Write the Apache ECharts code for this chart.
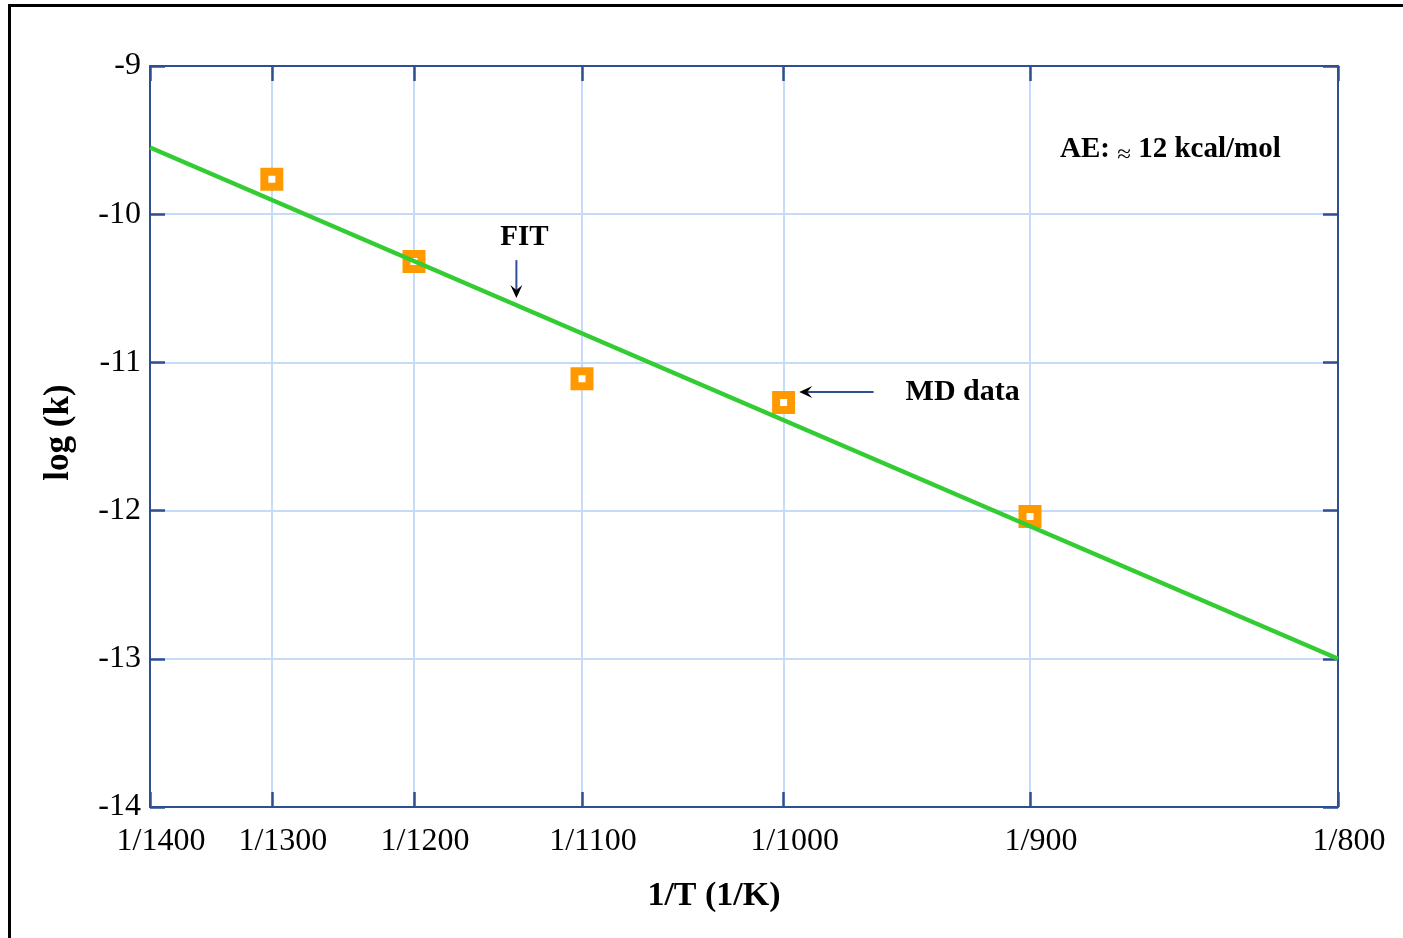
<!DOCTYPE html>
<html>
<head>
<meta charset="utf-8">
<script src="https://cdn.jsdelivr.net/npm/echarts@6/dist/echarts.min.js"></script>
<style>
  html, body { margin: 0; padding: 0; background: #ffffff; }
  #chart { width: 1403px; height: 938px; }
</style>
</head>
<body>
<div id="chart"></div>
<script>
// Temperatures (K) at which the 1/T axis is labelled
const tickTemps = [1400, 1300, 1200, 1100, 1000, 900, 800];

// Molecular-dynamics rate constants, log10(k)
const mdTemps = [1300, 1200, 1100, 1000, 900];
const mdLogK = [-9.765, -10.32, -11.11, -11.27, -12.04];

// Arrhenius fit, evaluated at the ends of the axis
const fitTemps = [1400, 800];
const fitLogK = [-9.55, -13.0];

// log(k) axis range
const yMin = -14, yMax = -9, yStep = 1;

// Annotation arrows, in (T, log k)
const fitArrow = { T: 1137, from: -10.31, to: -10.565 };
const mdArrow = { logK: -11.2, fromT: 961, toT: 993 };

const AXIS = '#2f4f93';
const GRID = '#c6dbf8';
const SERIF = '"Liberation Serif", "Times New Roman", serif';

const inv = t => 1 / t;
const tickValues = tickTemps.map(inv);
const mdPoints = mdTemps.map((t, i) => [inv(t), mdLogK[i]]);
const fitPoints = fitTemps.map((t, i) => [inv(t), fitLogK[i]]);

const chart = echarts.init(document.getElementById('chart'), null, { renderer: 'canvas' });

function xAxisDef(pos, withLabels) {
  return {
    type: 'value',
    position: pos,
    min: inv(1400),
    max: inv(800),
    axisLine: { show: true, onZero: false, lineStyle: { color: AXIS, width: 2 } },
    axisTick: { show: true, inside: true, length: 15, customValues: tickValues,
                lineStyle: { color: AXIS, width: 2.5 } },
    axisLabel: withLabels ? {
      show: true, customValues: tickValues, margin: 19,
      fontFamily: SERIF, fontSize: 32, color: '#000',
      padding: [0, 0, 0, 22],
      formatter: v => '1/' + Math.round(1 / v)
    } : { show: false },
    splitLine: { show: withLabels, lineStyle: { color: GRID, width: 2 } }
  };
}

function yAxisDef(pos, withLabels) {
  return {
    type: 'value',
    position: pos,
    min: yMin, max: yMax, interval: yStep,
    axisLine: { show: true, onZero: false, lineStyle: { color: AXIS, width: 2 } },
    axisTick: { show: true, inside: true, length: 15, lineStyle: { color: AXIS, width: 2.5 } },
    axisLabel: withLabels ? {
      show: true, margin: 9, fontFamily: SERIF, fontSize: 32, color: '#000',
      formatter: v => String(v)
    } : { show: false },
    splitLine: { show: withLabels, lineStyle: { color: GRID, width: 2 } }
  };
}

const xBottom = xAxisDef('bottom', true);
xBottom.name = '1/T (1/K)';
xBottom.nameLocation = 'middle';
xBottom.nameGap = 72;
xBottom.nameTextStyle = { fontFamily: SERIF, fontSize: 34, fontWeight: 'bold', color: '#000',
                          padding: [0, 60, 0, 0] };

const yLeft = yAxisDef('left', true);
yLeft.name = 'log (k)';
yLeft.nameLocation = 'middle';
yLeft.nameGap = 74;
yLeft.nameTextStyle = { fontFamily: SERIF, fontSize: 35, fontWeight: 'bold', color: '#000',
                        padding: [0, 0, 0, 8] };

chart.setOption({
  animation: false,
  backgroundColor: '#ffffff',
  grid: { left: 150, top: 66, right: 65, bottom: 131, containLabel: false },
  xAxis: [xBottom, xAxisDef('top', false)],
  yAxis: [yLeft, yAxisDef('right', false)],
  series: [
    {
      name: 'MD data',
      type: 'scatter',
      xAxisIndex: 0, yAxisIndex: 0,
      data: mdPoints,
      symbol: 'rect',
      symbolSize: 15,
      itemStyle: { color: '#ffffff', borderColor: '#ff9900', borderWidth: 8, opacity: 1 },
      z: 3
    },
    {
      name: 'FIT',
      type: 'line',
      xAxisIndex: 0, yAxisIndex: 0,
      data: fitPoints,
      showSymbol: false,
      lineStyle: { color: '#33cc33', width: 4.5 },
      z: 4
    }
  ]
});

// Annotations: arrows placed from data coordinates, labels beside them
const px = (x, y) => chart.convertToPixel({ xAxisIndex: 0, yAxisIndex: 0 }, [x, y]);

const fA = px(inv(fitArrow.T), fitArrow.from);
const fB = px(inv(fitArrow.T), fitArrow.to);
const mA = px(inv(mdArrow.fromT), mdArrow.logK);
const mB = px(inv(mdArrow.toT), mdArrow.logK);

const boldText = (text, x, y, size, align) => ({
  type: 'text', x: x, y: y, z: 20,
  style: { text: text, fontFamily: SERIF, fontSize: size, fontWeight: 'bold',
           fill: '#000', align: align, verticalAlign: 'middle' }
});

chart.setOption({
  graphic: [
    // outer frame
    { type: 'rect', shape: { x: 9.5, y: 5.5, width: 1500, height: 1000 },
      style: { fill: 'none', stroke: '#000', lineWidth: 3 }, z: 30 },
    // FIT arrow
    { type: 'line', shape: { x1: fA[0], y1: fA[1], x2: fB[0], y2: fB[1] - 8 },
      style: { stroke: '#2f4f93', lineWidth: 2 }, z: 20 },
    { type: 'polygon', shape: { points: [[fB[0], fB[1]], [fB[0] - 6, fB[1] - 13], [fB[0], fB[1] - 8], [fB[0] + 6, fB[1] - 13]] },
      style: { fill: '#000' }, z: 21 },
    // MD data arrow
    { type: 'line', shape: { x1: mA[0], y1: mA[1], x2: mB[0] + 8, y2: mB[1] },
      style: { stroke: '#2f4f93', lineWidth: 2 }, z: 20 },
    { type: 'polygon', shape: { points: [[mB[0], mB[1]], [mB[0] + 13, mB[1] - 6], [mB[0] + 8, mB[1]], [mB[0] + 13, mB[1] + 6]] },
      style: { fill: '#000' }, z: 21 },
    boldText('FIT', fA[0] + 8, fA[1] - 23, 29, 'center'),
    boldText('MD data', mA[0] + 32, mA[1], 30, 'left'),
    {
      type: 'text', x: 1060, y: 150, z: 20,
      style: {
        text: '{a|AE: }{b|\u2248}{a| 12 kcal/mol}',
        fill: '#000', align: 'left', verticalAlign: 'middle',
        rich: {
          a: { fontFamily: SERIF, fontSize: 29, fontWeight: 'bold', fill: '#000' },
          b: { fontFamily: SERIF, fontSize: 25, fill: '#000', padding: [10, 0, 0, 0] }
        }
      }
    }
  ]
});
</script>
</body>
</html>
